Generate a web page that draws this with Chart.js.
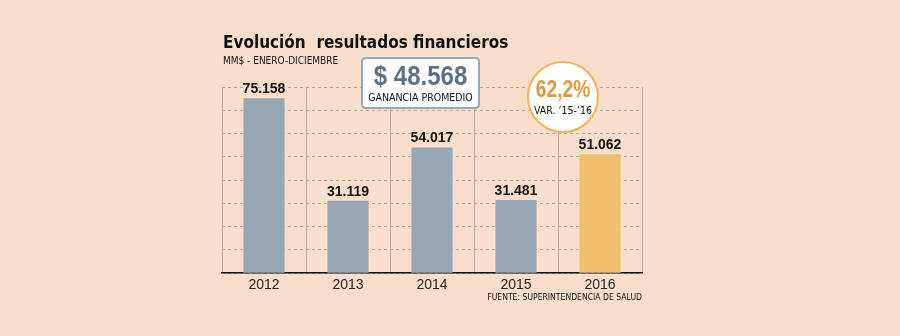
<!DOCTYPE html>
<html>
<head>
<meta charset="utf-8">
<script src="https://cdn.jsdelivr.net/npm/chart.js@4/dist/chart.umd.min.js"></script>
<style>
  html, body { margin: 0; padding: 0; background: #f9dfcb; }
  #wrap { width: 900px; height: 336px; position: relative; }
</style>
</head>
<body>
<div id="wrap"><canvas id="chart" width="900" height="336"></canvas></div>
<script>
const years = ['2012', '2013', '2014', '2015', '2016'];
const resultados = [75.158, 31.119, 54.017, 31.481, 51.062];
const yTicks = [0, 10, 20, 30, 40, 50, 60, 70, 80];

const titulo = 'Evolución  resultados financieros';
const subtitulo = 'MM$ - ENERO-DICIEMBRE';
const promedio = '$ 48.568';
const promedioTxt = 'GANANCIA PROMEDIO';
const variacion = '62,2%';
const variacionTxt = 'VAR. \u201815-\u201816';
const fuente = 'FUENTE: SUPERINTENDENCIA DE SALUD';

const BG = '#f9dfcb';
const GRIS = '#97a7b6';
const NARANJA = '#f0bd6d';

const bgPlugin = {
  id: 'bg',
  beforeDraw(chart) {
    const ctx = chart.ctx;
    ctx.save();
    ctx.fillStyle = BG;
    ctx.fillRect(0, 0, chart.width, chart.height);
    ctx.restore();
  }
};

function roundRect(ctx, x, y, w, h, r) {
  ctx.beginPath();
  ctx.moveTo(x + r, y);
  ctx.lineTo(x + w - r, y);
  ctx.quadraticCurveTo(x + w, y, x + w, y + r);
  ctx.lineTo(x + w, y + h - r);
  ctx.quadraticCurveTo(x + w, y + h, x + w - r, y + h);
  ctx.lineTo(x + r, y + h);
  ctx.quadraticCurveTo(x, y + h, x, y + h - r);
  ctx.lineTo(x, y + r);
  ctx.quadraticCurveTo(x, y, x + r, y);
  ctx.closePath();
}

// texto estrecho (no hay fuente narrow instalada)
function narrowText(ctx, text, x, y, sx) {
  ctx.save();
  ctx.translate(x, y);
  ctx.scale(sx, 1);
  ctx.fillText(text, 0, 0);
  ctx.restore();
}

const labelsPlugin = {
  id: 'etiquetas',
  afterDraw(chart) {
    const ctx = chart.ctx;
    const area = chart.chartArea;
    ctx.save();

    // valores sobre las barras
    const meta = chart.getDatasetMeta(0);
    ctx.fillStyle = '#111';
    ctx.font = 'bold 14px "Liberation Sans", Arial, sans-serif';
    ctx.textAlign = 'center';
    ctx.textBaseline = 'alphabetic';
    meta.data.forEach((bar, i) => {
      ctx.fillText(resultados[i].toFixed(3), bar.x, bar.y - 5);
    });

    // titulo
    ctx.textAlign = 'left';
    ctx.font = 'bold 17px "DejaVu Sans Condensed", "Liberation Sans", sans-serif';
    ctx.fillText(titulo, 223, 48);
    ctx.font = '10px "DejaVu Sans Condensed", "Liberation Sans", sans-serif';
    ctx.fillText(subtitulo, 223, 64);

    // caja ganancia promedio
    const bx = 362, by = 58, bw = 117, bh = 50;
    roundRect(ctx, bx, by, bw, bh, 4);
    ctx.fillStyle = '#fff';
    ctx.fill();
    ctx.lineWidth = 2;
    ctx.strokeStyle = '#95a8ba';
    ctx.stroke();
    ctx.textAlign = 'center';
    ctx.fillStyle = '#5b728a';
    ctx.font = 'bold 27px "Liberation Sans", sans-serif';
    narrowText(ctx, promedio, bx + bw / 2, 85, 0.89);
    ctx.fillStyle = '#111';
    ctx.font = '10.5px "DejaVu Sans Condensed", "Liberation Sans", sans-serif';
    ctx.fillText(promedioTxt, bx + bw / 2, 101);

    // circulo variacion
    const cx = 563, cy = 97, r = 35;
    ctx.beginPath();
    ctx.arc(cx, cy, r, 0, Math.PI * 2);
    ctx.fillStyle = '#fff';
    ctx.fill();
    ctx.lineWidth = 2;
    ctx.strokeStyle = '#f0b457';
    ctx.stroke();
    ctx.fillStyle = '#e9963a';
    ctx.font = 'bold 24px "Liberation Sans", sans-serif';
    narrowText(ctx, variacion, cx, 97, 0.8);
    ctx.fillStyle = '#111';
    ctx.font = '10.5px "DejaVu Sans Condensed", "Liberation Sans", sans-serif';
    ctx.fillText(variacionTxt, cx, 114);

    // fuente
    ctx.textAlign = 'right';
    ctx.font = '9.5px "DejaVu Sans Condensed", "Liberation Sans", sans-serif';
    narrowText(ctx, fuente, area.right, 300, 0.9);

    ctx.restore();
  }
};

new Chart(document.getElementById('chart'), {
  type: 'bar',
  data: {
    labels: years,
    datasets: [{
      data: resultados,
      backgroundColor: years.map((y, i) => i === years.length - 1 ? NARANJA : GRIS),
      barPercentage: 0.49,
      categoryPercentage: 1
    }]
  },
  options: {
    responsive: false,
    animation: false,
    events: [],
    layout: { padding: { left: 222, right: 258, top: 87, bottom: 38 } },
    plugins: { legend: { display: false }, tooltip: { enabled: false } },
    scales: {
      x: {
        grid: { color: '#b3aaa2', lineWidth: 1, drawTicks: false, offset: true },
        border: { display: true, color: '#111', width: 1.5 },
        ticks: {
          color: '#222',
          padding: 4,
          font: { family: '"Liberation Sans", sans-serif', size: 14 }
        }
      },
      y: {
        min: yTicks[0],
        max: yTicks[yTicks.length - 1],
        afterBuildTicks(axis) { axis.ticks = yTicks.map(v => ({ value: v })); },
        ticks: { display: false },
        grid: { color: '#b3aaa2', lineWidth: 1, drawTicks: false },
        border: { display: false, dash: [3, 3] }
      }
    }
  },
  plugins: [bgPlugin, labelsPlugin]
});
</script>
</body>
</html>
